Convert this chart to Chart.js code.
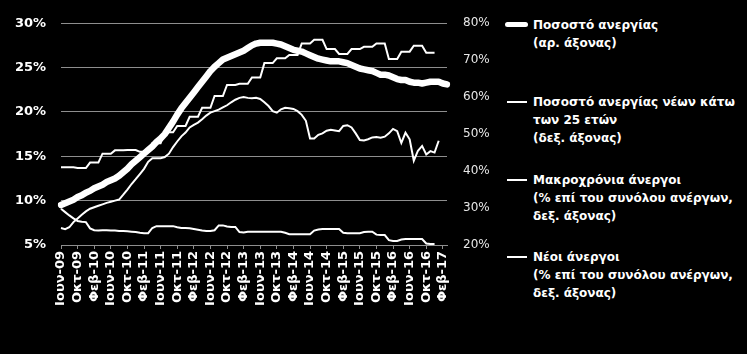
<!DOCTYPE html>
<html><head><meta charset="utf-8">
<script src="https://cdn.jsdelivr.net/npm/chart.js@4.4.1/dist/chart.umd.min.js"></script>
<style>
html,body{margin:0;padding:0;background:#000;}
#wrap{position:relative;width:747px;height:354px;background:#000;overflow:hidden;}
#cw{position:absolute;left:0;top:0;width:500px;height:354px;}
.lg{position:absolute;left:533px;color:#fff;font-family:"DejaVu Sans",sans-serif;font-weight:bold;font-size:12px;line-height:18px;white-space:nowrap;}
.sw{position:absolute;background:#fff;}
</style></head><body>
<div id="wrap">
<div id="cw"><canvas id="c" width="500" height="354"></canvas></div>
<div class="sw" style="left:505px;top:22px;width:23px;height:5px;border-radius:3px;"></div>
<div class="lg" style="top:16px;">Ποσοστό ανεργίας<br>(αρ. άξονας)</div>
<div class="sw" style="left:507px;top:101px;width:20px;height:2px;"></div>
<div class="lg" style="top:93px;">Ποσοστό ανεργίας νέων κάτω<br>των 25 ετών<br>(δεξ. άξονας)</div>
<div class="sw" style="left:507px;top:179px;width:20px;height:2px;"></div>
<div class="lg" style="top:171px;">Μακροχρόνια άνεργοι<br>(% επί του συνόλου ανέργων,<br>δεξ. άξονας)</div>
<div class="sw" style="left:507px;top:256px;width:20px;height:2px;"></div>
<div class="lg" style="top:248px;">Νέοι άνεργοι<br>(% επί του συνόλου ανέργων,<br>δεξ. άξονας)</div>
</div>
<script>
const months = [
 'Ιουν-09','Ιουλ-09','Αυγ-09','Σεπ-09','Οκτ-09','Νοε-09','Δεκ-09',
 'Ιαν-10','Φεβ-10','Μαρ-10','Απρ-10','Μαϊ-10','Ιουν-10','Ιουλ-10','Αυγ-10','Σεπ-10','Οκτ-10','Νοε-10','Δεκ-10',
 'Ιαν-11','Φεβ-11','Μαρ-11','Απρ-11','Μαϊ-11','Ιουν-11','Ιουλ-11','Αυγ-11','Σεπ-11','Οκτ-11','Νοε-11','Δεκ-11',
 'Ιαν-12','Φεβ-12','Μαρ-12','Απρ-12','Μαϊ-12','Ιουν-12','Ιουλ-12','Αυγ-12','Σεπ-12','Οκτ-12','Νοε-12','Δεκ-12',
 'Ιαν-13','Φεβ-13','Μαρ-13','Απρ-13','Μαϊ-13','Ιουν-13','Ιουλ-13','Αυγ-13','Σεπ-13','Οκτ-13','Νοε-13','Δεκ-13',
 'Ιαν-14','Φεβ-14','Μαρ-14','Απρ-14','Μαϊ-14','Ιουν-14','Ιουλ-14','Αυγ-14','Σεπ-14','Οκτ-14','Νοε-14','Δεκ-14',
 'Ιαν-15','Φεβ-15','Μαρ-15','Απρ-15','Μαϊ-15','Ιουν-15','Ιουλ-15','Αυγ-15','Σεπ-15','Οκτ-15','Νοε-15','Δεκ-15',
 'Ιαν-16','Φεβ-16','Μαρ-16','Απρ-16','Μαϊ-16','Ιουν-16','Ιουλ-16','Αυγ-16','Σεπ-16','Οκτ-16','Νοε-16','Δεκ-16',
 'Ιαν-17','Φεβ-17','Μαρ-17'
];
// Unemployment rate (left axis, %)
const unemploymentRate = [
 9.5,9.7,9.9,10.1,10.4,10.6,10.9,11.1,11.4,11.6,
 11.8,12.1,12.3,12.5,12.8,13.2,13.6,14.1,14.5,14.9,
 15.3,15.7,16.1,16.6,17.0,17.5,18.2,18.9,19.7,20.4,
 21.0,21.6,22.2,22.8,23.4,24.0,24.6,25.1,25.5,25.9,
 26.1,26.3,26.5,26.7,26.9,27.2,27.5,27.7,27.8,27.8,
 27.8,27.8,27.7,27.6,27.4,27.2,27.0,26.9,26.8,26.6,
 26.4,26.2,26.0,25.9,25.8,25.7,25.7,25.7,25.6,25.5,
 25.3,25.1,24.9,24.8,24.7,24.6,24.4,24.2,24.2,24.1,
 23.9,23.7,23.6,23.6,23.4,23.3,23.3,23.2,23.3,23.4,
 23.4,23.4,23.2,23.1
];
// Youth (<25) unemployment rate (right axis, %)
const youthUnemployment = [
 24.6,24.3,24.8,26.2,27.2,28.2,29.1,29.8,30.2,30.6,
 31.0,31.4,31.7,32.0,32.3,33.6,35.0,36.5,37.8,39.2,
 40.6,42.5,43.5,43.5,43.5,43.8,44.7,46.5,48.0,49.4,
 50.4,51.8,52.5,53.1,54.0,55.0,55.8,56.2,56.6,57.2,
 57.8,58.6,59.3,59.8,60.0,59.8,59.7,59.8,59.5,58.6,
 57.6,56.2,55.8,56.7,57.1,57.0,56.8,56.2,55.2,53.6,
 48.8,48.8,49.8,50.2,50.9,51.2,51.0,50.8,52.2,52.4,
 51.8,50.2,48.4,48.3,48.6,49.1,49.2,49.0,49.3,50.2,
 51.4,50.8,47.6,50.4,48.6,42.8,45.5,46.8,44.5,45.4,
 45.0,48.2,null,null
];
// Long-term unemployed (% of all unemployed, right axis)
const longTermUnemployed = [
 41.0,41.0,41.0,41.0,40.8,40.8,40.8,42.3,42.3,42.3,
 44.7,44.7,44.7,45.6,45.6,45.6,45.7,45.7,45.7,45.2,
 45.2,45.2,47.5,47.5,47.5,50.5,50.5,50.5,52.2,52.2,
 52.2,54.7,54.7,54.7,57.1,57.1,57.1,60.3,60.3,60.3,
 63.3,63.3,63.3,63.6,63.6,63.6,65.3,65.3,65.3,69.2,
 69.2,69.2,70.5,70.5,70.5,71.4,71.4,71.4,74.5,74.5,
 74.5,75.5,75.5,75.5,73.0,73.0,73.0,71.7,71.7,71.7,
 73.0,73.0,73.0,73.6,73.6,73.6,74.5,74.5,74.5,70.3,
 70.3,70.3,72.3,72.3,72.3,73.9,73.9,73.9,72.0,72.0,
 72.0,null,null,null
];
// New unemployed (% of all unemployed, right axis)
const newUnemployed = [
 29.8,28.9,28.0,27.2,26.5,26.3,26.2,24.5,24.0,23.9,
 24.0,24.0,23.9,23.9,23.8,23.8,23.7,23.6,23.5,23.3,
 23.2,23.2,24.6,25.1,25.1,25.1,25.1,25.1,24.8,24.6,
 24.6,24.5,24.3,24.1,23.9,23.8,23.8,24.0,25.3,25.3,
 25.0,24.9,24.9,23.5,23.4,23.6,23.6,23.6,23.6,23.6,
 23.6,23.6,23.6,23.6,23.3,22.9,22.9,22.9,22.9,22.9,
 22.9,23.9,24.2,24.3,24.3,24.3,24.3,24.3,23.3,23.2,
 23.2,23.2,23.2,23.5,23.6,23.6,22.8,22.7,22.7,21.3,
 21.1,21.1,21.5,21.6,21.6,21.6,21.6,21.6,20.4,20.3,
 20.3,null,null,null
];
const leftTicks = [5,10,15,20,25,30];
const rightTicks = [20,30,40,50,60,70,80];

const GRID = '#8e8e8e';
const FONT = 'DejaVu Sans';

new Chart(document.getElementById('c'), {
  type: 'line',
  data: {
    labels: months,
    datasets: [
      {label:'Ποσοστό ανεργίας', data: unemploymentRate, yAxisID:'y', borderColor:'#fff', borderWidth:6.5, pointRadius:0, tension:0, borderJoinStyle:'round', borderCapStyle:'round', order:0},
      {label:'Ποσοστό ανεργίας νέων κάτω των 25 ετών', data: youthUnemployment, yAxisID:'y1', borderColor:'#fff', borderWidth:2, pointRadius:0, tension:0, order:1},
      {label:'Μακροχρόνια άνεργοι', data: longTermUnemployed, yAxisID:'y1', borderColor:'#fff', borderWidth:2, pointRadius:0, tension:0, order:2},
      {label:'Νέοι άνεργοι', data: newUnemployed, yAxisID:'y1', borderColor:'#fff', borderWidth:2, pointRadius:0, tension:0, order:3}
    ]
  },
  options: {
    responsive: false,
    devicePixelRatio: 1,
    animation: false,
    layout: {padding: {top: 17, left: 0, right: 0, bottom: 0}},
    plugins: {legend: {display: false}, tooltip: {enabled: false}},
    scales: {
      x: {
        type: 'category',
        offset: false,
        grid: {display: true, drawOnChartArea: false, drawTicks: true, tickLength: 4,
               tickColor: ctx => (ctx.index % 4 === 0 ? GRID : 'rgba(0,0,0,0)')},
        border: {display: true, color: GRID, width: 1},
        ticks: {autoSkip: false, maxRotation: 90, minRotation: 90, padding: 2, color: '#fff',
                font: {family: FONT, weight: 'bold', size: 13},
                callback: function(v, i) { return i % 4 === 0 ? this.getLabelForValue(v) : ''; }},
        afterFit: s => { s.height = 109; }
      },
      y: {
        position: 'left', min: 5, max: 30,
        afterBuildTicks: s => { s.ticks = leftTicks.map(v => ({value: v})); },
        grid: {color: GRID, lineWidth: 1, drawTicks: false},
        border: {display: false},
        ticks: {color: '#fff', padding: 15, font: {family: FONT, weight: 'bold', size: 13}, callback: v => v + '%'},
        afterFit: s => { s.width = 61; }
      },
      y1: {
        position: 'right', min: 20, max: 80,
        afterBuildTicks: s => { s.ticks = rightTicks.map(v => ({value: v})); },
        grid: {drawOnChartArea: false, drawTicks: false},
        border: {display: false},
        ticks: {color: '#e6e6e6', padding: 16, font: {family: FONT, size: 12}, callback: v => v + '%'},
        afterFit: s => { s.width = 53; }
      }
    }
  }
});
</script>
</body></html>
